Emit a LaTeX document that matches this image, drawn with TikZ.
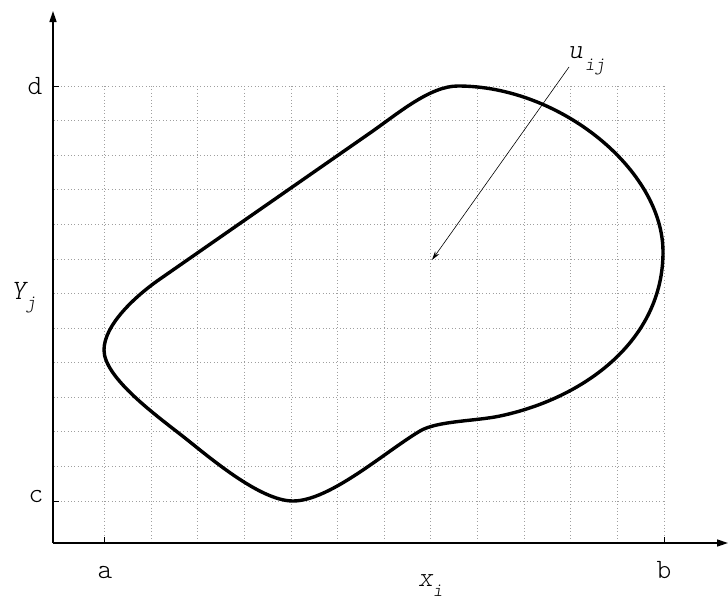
\documentclass[tikz,border=0pt]{standalone}
\usepackage{fontspec}
\setmonofont{lmmonolt10-regular.otf}[ItalicFont=lmmonolt10-oblique.otf]
\usetikzlibrary{arrows.meta}
\tikzset{
  gridline/.style={gray!75, line width=0.7pt, dash pattern=on 0.8pt off 2.6pt},
  axisline/.style={line width=1.6pt, -{Triangle[length=11pt,width=7pt]}},
  tickline/.style={line width=1pt},
  curveline/.style={line width=3.4pt, line join=round},
  pointer/.style={line width=0.6pt, -{Stealth[length=9pt,width=5pt]}},
  lbl/.style={font=\fontsize{28}{30}\selectfont\ttfamily, inner sep=0pt, anchor=base},
  ilbl/.style={font=\fontsize{28}{30}\selectfont\ttfamily\itshape, inner sep=0pt, anchor=base west},
}
\newcommand{\subsc}[2]{\raisebox{-#1pt}{\fontsize{19}{20}\selectfont\ttfamily\itshape #2}}
\begin{document}
\begin{tikzpicture}[x=1pt,y=-1pt]
\useasboundingbox (0,0) rectangle (728,605);
% grid
\foreach \k in {0,...,12}{
  \draw[gridline] (104.3+46.64*\k,86) -- (104.3+46.64*\k,543);
  \draw[gridline] (54,86+34.58*\k) -- (664,86+34.58*\k);
}
% axes
\coordinate (O) at (53,543);
\coordinate (ytop) at (53,11);
\coordinate (xend) at (728,543);
\draw[axisline] (O) -- (ytop);
\draw[axisline] (O) -- (xend);
% ticks
\coordinate (ta) at (104.3,543); \coordinate (ta2) at (104.3,537);
\coordinate (tb) at (664,543); \coordinate (tb2) at (664,537);
\coordinate (tc) at (53,501); \coordinate (tc2) at (59,501);
\coordinate (td) at (53,86); \coordinate (td2) at (59,86);
\draw[tickline] (ta) -- (ta2);
\draw[tickline] (tb) -- (tb2);
\draw[tickline] (tc) -- (tc2);
\draw[tickline] (td) -- (td2);
% labels
\node[lbl] (ld) at (35,94) {d};
\node[lbl] (lc) at (36,502) {c};
\node[lbl] (la) at (105,578) {a};
\node[lbl] (lb) at (664,578) {b};
\node[ilbl] (lx) at (418,586) {x\subsc{10}{i}};
\node[ilbl] (ly) at (11,299) {Y\subsc{9}{j}};
\node[ilbl] (lu) at (568,58) {u\hspace{2pt}\subsc{12}{ij}};
% region curve
\draw[curveline] (104,350)
  .. controls (104,325) and (135.4,296) .. (160,279)
  -- (370,133)
  .. controls (398.7,113) and (430,86) .. (458,86)
  .. controls (560,86) and (663,170) .. (663,252)
  .. controls (663,340) and (585,398) .. (500,416)
  .. controls (475.5,421.2) and (437.2,420.8) .. (420,431)
  .. controls (385.6,451.4) and (330,501) .. (293,501)
  .. controls (260,501) and (208.6,456.6) .. (185,438)
  .. controls (157.5,416.3) and (104,378) .. cycle;
% pointer
\coordinate (us) at (569,67);
\coordinate (ut) at (432,260);
\draw[pointer] (us) -- (ut);
\end{tikzpicture}
\end{document}
